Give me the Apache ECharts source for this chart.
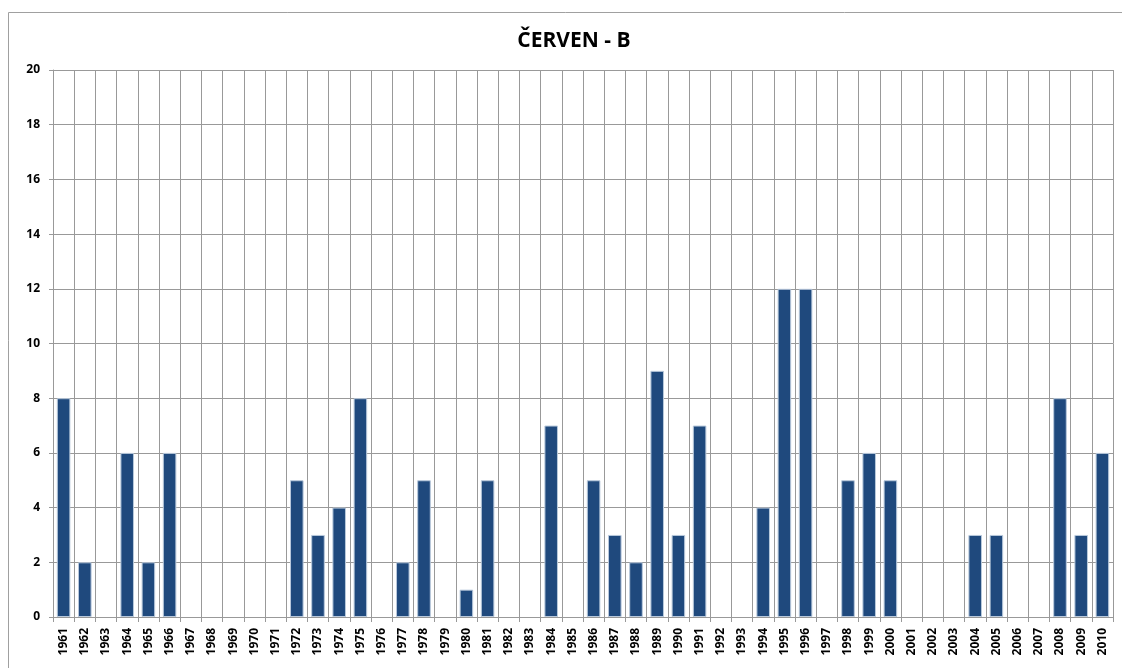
<!DOCTYPE html>
<html>
<head>
<meta charset="utf-8">
<script src="https://cdn.jsdelivr.net/npm/echarts@6/dist/echarts.min.js"></script>
<style>
  html, body { margin: 0; padding: 0; background: #fff; }
  #chart { width: 1122px; height: 668px; }
</style>
</head>
<body>
<div id="chart"></div>
<script>
// years 1961..2010
const years = [
  "1961", "1962", "1963", "1964", "1965", "1966", "1967", "1968", "1969", "1970",
  "1971", "1972", "1973", "1974", "1975", "1976", "1977", "1978", "1979", "1980",
  "1981", "1982", "1983", "1984", "1985", "1986", "1987", "1988", "1989", "1990",
  "1991", "1992", "1993", "1994", "1995", "1996", "1997", "1998", "1999", "2000",
  "2001", "2002", "2003", "2004", "2005", "2006", "2007", "2008", "2009", "2010"
];
const counts = [
  8, 2, 0, 6, 2, 6, 0, 0, 0, 0,
  0, 5, 3, 4, 8, 0, 2, 5, 0, 1,
  5, 0, 0, 7, 0, 5, 3, 2, 9, 3,
  7, 0, 0, 4, 12, 12, 0, 5, 6, 5,
  0, 0, 0, 3, 3, 0, 0, 8, 3, 6
];
const chartTitle = "ČERVEN - B";

const gridColor = "#999999";
const font = "Open Sans";

const myChart = echarts.init(document.getElementById("chart"));

// zero-height bars should not leave a border stub on the axis
const barData = counts.map(v => (v === 0 ? { value: v, itemStyle: { borderWidth: 0 } } : v));

const option = {
  animation: false,
  title: {
    text: chartTitle,
    left: 569,
    textAlign: "center",
    top: 26,
    textStyle: {
      fontFamily: font,
      fontSize: 21,
      fontWeight: "bold",
      color: "#000"
    }
  },
  graphic: [
    {
      type: "rect",
      shape: { x: 8.5, y: 12.5, width: 1120, height: 660 },
      style: { fill: "none", stroke: "#a0a0a0", lineWidth: 1 },
      silent: true
    }
  ],
  grid: {
    left: 53,
    right: 9,
    top: 70,
    bottom: 51,
    containLabel: false
  },
  xAxis: {
    type: "category",
    data: years,
    boundaryGap: true,
    axisLine: { show: true, lineStyle: { color: gridColor } },
    axisTick: { show: true, alignWithLabel: false, length: 5, lineStyle: { color: gridColor } },
    splitLine: { show: true, lineStyle: { color: gridColor, width: 1 } },
    axisLabel: {
      interval: 0,
      rotate: 90,
      margin: 11,
      fontFamily: font,
      fontSize: 12,
      fontWeight: "bold",
      color: "#000"
    }
  },
  yAxis: {
    type: "value",
    min: 0,
    max: 20,
    interval: 2,
    axisLine: { show: true, lineStyle: { color: gridColor } },
    axisTick: { show: true, length: 4, lineStyle: { color: gridColor } },
    splitLine: { show: true, lineStyle: { color: gridColor, width: 1 } },
    axisLabel: {
      margin: 13,
      fontFamily: font,
      fontSize: 12,
      fontWeight: "bold",
      color: "#000"
    }
  },
  series: [
    {
      type: "bar",
      data: barData,
      barCategoryGap: "36%",
      itemStyle: {
        color: "#1f497d",
        borderColor: "#b9c9dc",
        borderWidth: 1
      }
    }
  ]
};

myChart.setOption(option);
</script>
</body>
</html>
